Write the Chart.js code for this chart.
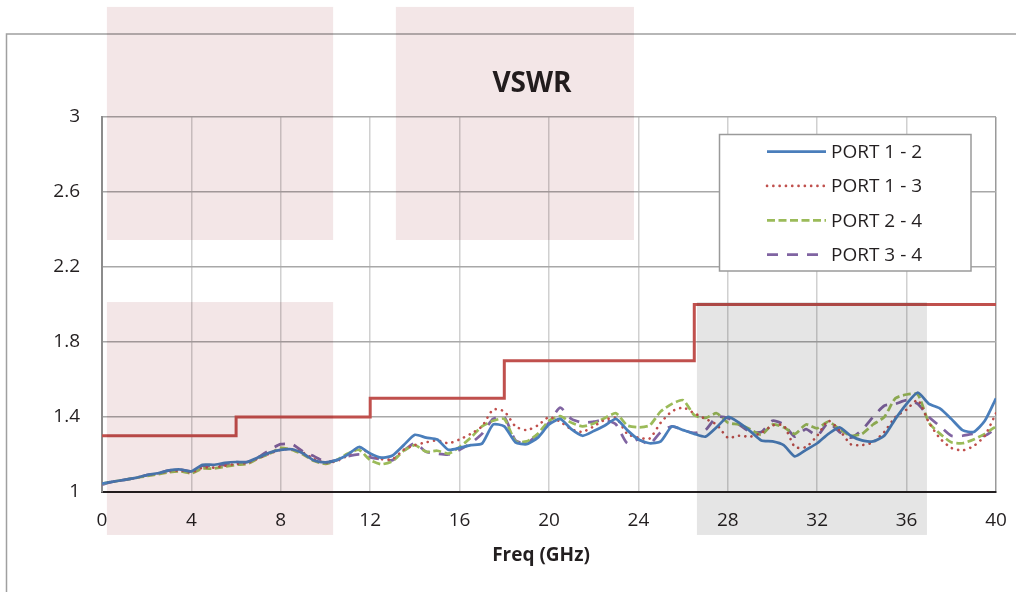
<!DOCTYPE html>
<html>
<head>
<meta charset="utf-8">
<script src="https://cdn.jsdelivr.net/npm/chart.js@4.4.1/dist/chart.umd.min.js"></script>
<style>
body { margin: 0; background: #fff; }
canvas { display: block; }
</style>
</head>
<body>
<canvas id="myChart" width="1016" height="592"></canvas>
<script>
// VSWR vs frequency (0.5 GHz step)
var freqGHz = [0,0.5,1,1.5,2,2.5,3,3.5,4,4.5,5,5.5,6,6.5,7,7.5,8,8.5,9,9.5,10,10.5,11,11.5,12,12.5,13,13.5,14,14.5,15,15.5,16,16.5,17,17.5,18,18.5,19,19.5,20,20.5,21,21.5,22,22.5,23,23.5,24,24.5,25,25.5,26,26.5,27,27.5,28,28.5,29,29.5,30,30.5,31,31.5,32,32.5,33,33.5,34,34.5,35,35.5,36,36.5,37,37.5,38,38.5,39,39.5,40];

var port12 = [1.045,1.055,1.065,1.075,1.09,1.10,1.115,1.12,1.11,1.145,1.145,1.155,1.16,1.16,1.185,1.21,
    1.225,1.228,1.205,1.168,1.158,1.17,1.20,1.24,1.205,1.183,1.195,1.25,1.305,1.29,1.28,1.225,
    1.235,1.25,1.258,1.36,1.35,1.265,1.255,1.29,1.36,1.39,1.335,1.30,1.325,1.355,1.39,1.33,
    1.28,1.26,1.27,1.35,1.33,1.31,1.295,1.345,1.40,1.37,1.325,1.275,1.27,1.25,1.19,1.225,
    1.26,1.31,1.345,1.30,1.275,1.27,1.30,1.39,1.47,1.53,1.47,1.445,1.39,1.33,1.32,1.38,1.50];

var port13 = [1.045,1.055,1.065,1.075,1.09,1.10,1.11,1.115,1.105,1.13,1.13,1.14,1.15,1.155,1.18,1.205,
    1.225,1.228,1.21,1.175,1.155,1.165,1.195,1.24,1.20,1.175,1.175,1.225,1.25,1.265,1.275,1.26,
    1.28,1.31,1.35,1.44,1.43,1.35,1.33,1.355,1.40,1.375,1.335,1.32,1.35,1.385,1.395,1.31,
    1.29,1.285,1.37,1.43,1.45,1.42,1.39,1.36,1.29,1.30,1.295,1.315,1.355,1.355,1.24,1.24,
    1.30,1.38,1.33,1.255,1.25,1.265,1.32,1.40,1.44,1.49,1.37,1.285,1.235,1.222,1.245,1.30,1.42];

var port24 = [1.045,1.055,1.065,1.075,1.085,1.095,1.105,1.11,1.10,1.125,1.125,1.135,1.145,1.15,1.18,1.205,
    1.235,1.225,1.20,1.165,1.15,1.17,1.205,1.225,1.17,1.148,1.165,1.22,1.25,1.215,1.22,1.205,
    1.24,1.29,1.35,1.38,1.39,1.27,1.27,1.31,1.38,1.405,1.37,1.35,1.365,1.395,1.42,1.355,
    1.345,1.355,1.43,1.47,1.49,1.41,1.395,1.42,1.37,1.36,1.335,1.305,1.36,1.345,1.31,1.36,
    1.34,1.375,1.335,1.30,1.31,1.36,1.40,1.50,1.52,1.52,1.37,1.31,1.265,1.26,1.28,1.31,1.35];

var port34 = [1.04,1.055,1.065,1.075,1.09,1.10,1.115,1.12,1.11,1.14,1.14,1.145,1.15,1.16,1.185,1.225,
    1.255,1.255,1.215,1.19,1.16,1.17,1.19,1.20,1.185,1.175,1.17,1.22,1.26,1.215,1.205,1.20,
    1.225,1.26,1.31,1.39,1.40,1.275,1.26,1.31,1.37,1.45,1.39,1.37,1.375,1.385,1.36,1.26,
    1.28,1.255,1.32,1.35,1.33,1.315,1.33,1.40,1.395,1.36,1.32,1.32,1.38,1.36,1.295,1.335,
    1.30,1.37,1.32,1.29,1.33,1.40,1.46,1.47,1.49,1.47,1.40,1.35,1.30,1.30,1.31,1.30,1.34];

// spec limit (step line)
var limitFreq = [0, 6, 12, 18, 26.5, 40];
var limitVswr = [1.3, 1.4, 1.5, 1.7, 2.0, 2.0];

var xTicks = [0, 4, 8, 12, 16, 20, 24, 28, 32, 36, 40];
var yTicks = [1, 1.4, 1.8, 2.2, 2.6, 3];
var seriesNames = ['PORT 1 - 2', 'PORT 1 - 3', 'PORT 2 - 4', 'PORT 3 - 4'];

var textColor = '#231f20';

// shaded boxes laid over the plot, given in axis units
var shades = [
    {x0: 0.22, x1: 10.34, y0: 2.344, y1: 3.587, color: '#f3e6e7'},
    {x0: 13.15, x1: 23.80, y0: 2.344, y1: 3.587, color: '#f3e6e7'},
    {x0: 0.22, x1: 10.34, y0: 0.771, y1: 2.013, color: '#f3e6e7'},
    {x0: 26.62, x1: 36.91, y0: 0.771, y1: 2.013, color: '#e5e5e5'}
];

function toPoints(xs, ys){
    return xs.map(function(f, i){ return {x: f, y: ys[i]}; });
}

var decorPlugin = {
    id: 'decor',
    beforeDraw: function(chart){
        var ctx = chart.ctx;
        ctx.save();
        ctx.fillStyle = '#fff';
        ctx.fillRect(0, 0, chart.width, chart.height);
        ctx.strokeStyle = '#a0a0a0';
        ctx.lineWidth = 1.5;
        ctx.strokeRect(6.5, 34, 1200, 800);
        ctx.fillStyle = textColor;
        ctx.textAlign = 'center';
        ctx.textBaseline = 'middle';
        ctx.font = 'bold 28px "Open Sans"';
        ctx.fillText('VSWR', 532, 84);
        ctx.font = 'bold 19px "Open Sans"';
        ctx.fillText('Freq (GHz)', 541, 556);
        ctx.restore();
    },
    afterDatasetsDraw: function(chart){
        var ctx = chart.ctx;
        ctx.save();
        ctx.fillStyle = '#fff';
        ctx.fillRect(719.5, 134.5, 251.5, 136.5);
        ctx.strokeStyle = '#9a9a9a';
        ctx.lineWidth = 1.5;
        ctx.strokeRect(719.5, 134.5, 251.5, 136.5);
        ctx.font = '19px "Open Sans"';
        ctx.textAlign = 'left';
        ctx.textBaseline = 'middle';
        for(var i = 0; i < seriesNames.length; i++){
            var ds = chart.data.datasets[i];
            var y = 151.5 + i * 34.4;
            ctx.strokeStyle = ds.borderColor;
            ctx.lineWidth = ds.borderWidth;
            ctx.setLineDash(ds.borderDash || []);
            ctx.lineCap = ds.borderCapStyle || 'butt';
            ctx.beginPath();
            ctx.moveTo(767, y);
            ctx.lineTo(826, y);
            ctx.stroke();
            ctx.setLineDash([]);
            ctx.fillStyle = textColor;
            ctx.fillText(seriesNames[i], 831, y + 1);
        }
        ctx.restore();
    },
    afterDraw: function(chart){
        var ctx = chart.ctx;
        var xs = chart.scales.x, ys = chart.scales.y;
        ctx.save();
        ctx.globalCompositeOperation = 'multiply';
        shades.forEach(function(s){
            var left = xs.getPixelForValue(s.x0), right = xs.getPixelForValue(s.x1);
            var top = ys.getPixelForValue(s.y1), bottom = ys.getPixelForValue(s.y0);
            ctx.fillStyle = s.color;
            ctx.fillRect(left, top, right - left, bottom - top);
        });
        ctx.restore();
    }
};

function chartInit(){
    Chart.defaults.font.family = '"Open Sans"';
    Chart.defaults.color = textColor;

    var config = {
        type: 'line',
        data: {
            datasets: [{
                label: seriesNames[0],
                data: toPoints(freqGHz, port12),
                borderColor: '#4a7ebb',
                borderWidth: 2.75,
                tension: 0.2
            }, {
                label: seriesNames[1],
                data: toPoints(freqGHz, port13),
                borderColor: '#c0504d',
                borderWidth: 2.6,
                borderDash: [0.1, 6.2],
                borderCapStyle: 'round',
                tension: 0.2
            }, {
                label: seriesNames[2],
                data: toPoints(freqGHz, port24),
                borderColor: '#9bbb59',
                borderWidth: 2.75,
                borderDash: [8, 3.5],
                tension: 0.2
            }, {
                label: seriesNames[3],
                data: toPoints(freqGHz, port34),
                borderColor: '#8064a2',
                borderWidth: 2.75,
                borderDash: [11, 9],
                tension: 0.2
            }, {
                label: 'Limit',
                data: toPoints(limitFreq, limitVswr),
                borderColor: '#c0504d',
                borderWidth: 3,
                stepped: 'before'
            }]
        },
        options: {
            responsive: false,
            animation: false,
            elements: { point: { radius: 0 } },
            layout: { padding: { left: 0, top: 117, right: 20, bottom: 0 } },
            plugins: {
                legend: { display: false },
                tooltip: { enabled: false }
            },
            scales: {
                x: {
                    type: 'linear',
                    min: 0,
                    max: 40,
                    afterBuildTicks: function(scale){
                        scale.ticks = xTicks.map(function(v){ return {value: v}; });
                    },
                    afterFit: function(scale){
                        scale.height = 100;
                        scale.paddingLeft = 0;
                        scale.paddingRight = 0;
                    },
                    ticks: {
                        padding: 17,
                        maxRotation: 0,
                        font: { size: 19 },
                        callback: function(v){ return String(v); }
                    },
                    grid: {
                        drawTicks: false,
                        lineWidth: 1.5,
                        color: function(c){
                            return (c.tick && c.tick.value === 40) ? '#9a9a9a' : '#d0d0d0';
                        }
                    },
                    border: { color: textColor, width: 2 }
                },
                y: {
                    min: 1,
                    max: 3,
                    afterBuildTicks: function(scale){
                        scale.ticks = yTicks.map(function(v){ return {value: v}; });
                    },
                    afterFit: function(scale){
                        scale.width = 102;
                        scale.paddingTop = 0;
                        scale.paddingBottom = 0;
                    },
                    ticks: {
                        padding: 22,
                        font: { size: 19 },
                        callback: function(v){ return String(v); }
                    },
                    grid: {
                        drawTicks: false,
                        lineWidth: 1.5,
                        color: '#a8a8a8'
                    },
                    border: { color: '#8c8c8c', width: 2 }
                }
            }
        },
        plugins: [decorPlugin]
    };

    myChart = new Chart(document.getElementById('myChart'), config);
}

var myChart;
chartInit();
</script>
</body>
</html>
